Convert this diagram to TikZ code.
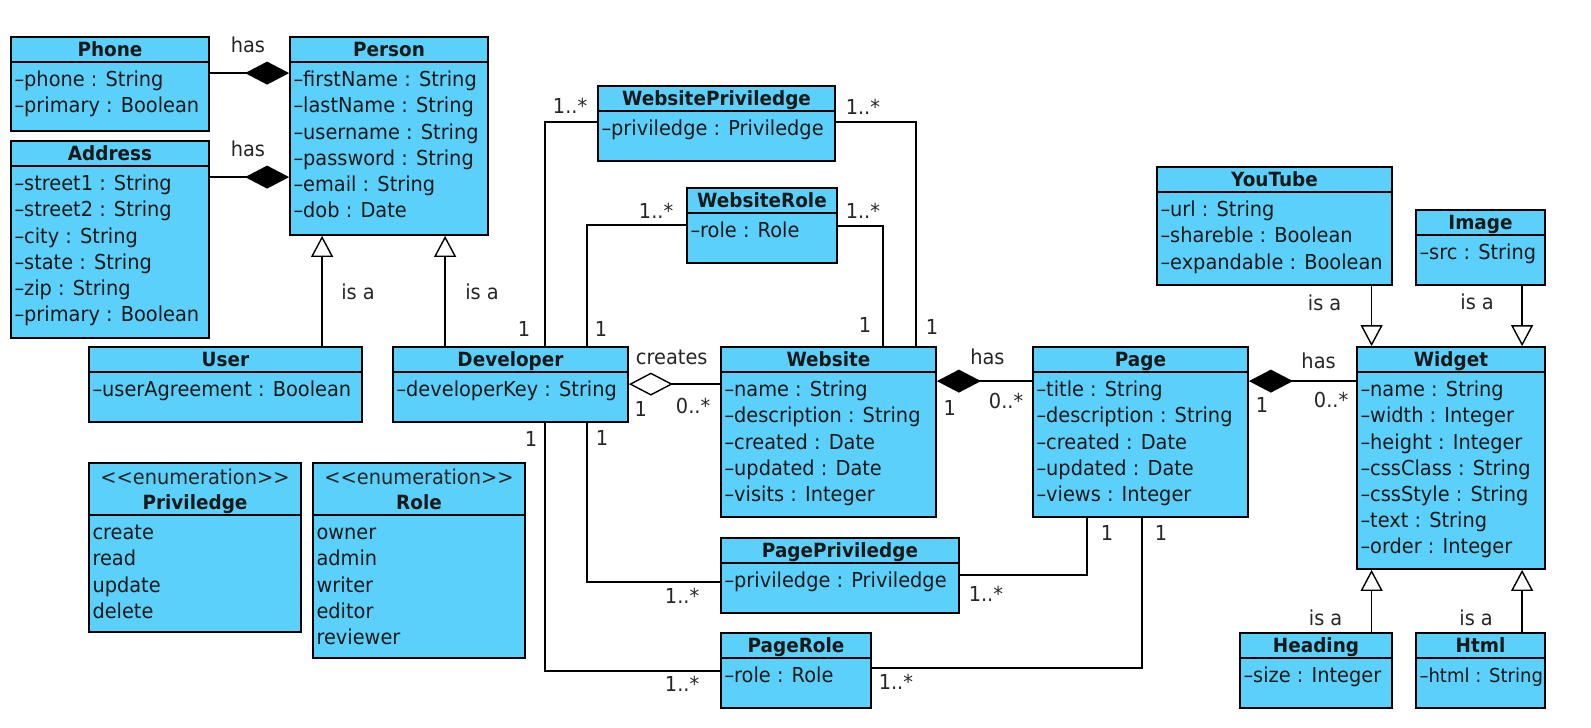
\documentclass[tikz,border=0pt]{standalone}
\usepackage{fontspec}
\setmainfont{DejaVu Sans}[FakeStretch=0.94]
\usepackage{tikz}
\usetikzlibrary{arrows.meta, fit, positioning}
\definecolor{classblue}{RGB}{90,208,250}
\tikzstyle{classbox} = [rectangle, draw=black, fill=classblue, line width=0.9pt, inner sep=0pt]
\tikzstyle{divider} = [line width=0.9pt]
\tikzstyle{classname} = [inner sep=0pt, text height=7pt, text depth=0pt, text=black!90, font=\fontsize{9.8}{11}\selectfont\bfseries]
\tikzstyle{attr} = [anchor=west, inner sep=0pt, text height=7.5pt, text depth=0pt, text=black!90, font=\fontsize{10.3}{12}\selectfont]
\tikzstyle{lbl} = [inner sep=0pt, text height=7.5pt, text depth=0pt, text=black!85, font=\fontsize{10.3}{12}\selectfont]
\tikzstyle{assoc} = [line width=0.7pt]
\tikzstyle{compose} = [assoc, {Diamond[length=22pt, width=11.5pt]}-]
\tikzstyle{aggregate} = [assoc, {Diamond[open, fill=white, length=22pt, width=11.5pt]}-]
\tikzstyle{isa} = [assoc, -{Triangle[open, fill=white, length=10.5pt, width=11pt]}]

\begin{document}
\begin{tikzpicture}[x=0.5pt, y=-0.5pt]
    \useasboundingbox (0,0) rectangle (1591,728);

    % classes
    \node (phone) [classbox, fit={(11,37) (209,131)}] {};
    \draw [divider] ([yshift=-13pt]phone.north west) -- ([yshift=-13pt]phone.north east);
    \node [classname] at ([yshift=-6.5pt]phone.north) {Phone};
    \foreach \a [count=\i from 0] in {phone : String, primary : Boolean}
        \node [attr] at ([shift={(4,43+26.2*\i)}]phone.north west) {–\a};

    \node (person) [classbox, fit={(290,37) (488,235)}] {};
    \draw [divider] ([yshift=-13pt]person.north west) -- ([yshift=-13pt]person.north east);
    \node [classname] at ([yshift=-6.5pt]person.north) {Person};
    \foreach \a [count=\i from 0] in {firstName : String, lastName : String, username : String, password : String, email : String, dob : Date}
        \node [attr] at ([shift={(4,43+26.2*\i)}]person.north west) {–\a};

    \node (address) [classbox, fit={(11,141) (209,338)}] {};
    \draw [divider] ([yshift=-13pt]address.north west) -- ([yshift=-13pt]address.north east);
    \node [classname] at ([yshift=-6.5pt]address.north) {Address};
    \foreach \a [count=\i from 0] in {street1 : String, street2 : String, city : String, state : String, zip : String, primary : Boolean}
        \node [attr] at ([shift={(4,43+26.2*\i)}]address.north west) {–\a};

    \node (user) [classbox, fit={(89,347) (362,422)}] {};
    \draw [divider] ([yshift=-13pt]user.north west) -- ([yshift=-13pt]user.north east);
    \node [classname] at ([yshift=-6.5pt]user.north) {User};
    \node [attr] at ([shift={(4,43)}]user.north west) {–userAgreement : Boolean};

    \node (dev) [classbox, fit={(393,347) (628,422)}] {};
    \draw [divider] ([yshift=-13pt]dev.north west) -- ([yshift=-13pt]dev.north east);
    \node [classname] at ([yshift=-6.5pt]dev.north) {Developer};
    \node [attr] at ([shift={(4,43)}]dev.north west) {–developerKey : String};

    \node (wsp) [classbox, fit={(598,86) (835,161)}] {};
    \draw [divider] ([yshift=-13pt]wsp.north west) -- ([yshift=-13pt]wsp.north east);
    \node [classname] at ([yshift=-6.5pt]wsp.north) {WebsitePriviledge};
    \node [attr] at ([shift={(4,43)}]wsp.north west) {–priviledge : Priviledge};

    \node (wsr) [classbox, fit={(687,188) (837,263)}] {};
    \draw [divider] ([yshift=-13pt]wsr.north west) -- ([yshift=-13pt]wsr.north east);
    \node [classname] at ([yshift=-6.5pt]wsr.north) {WebsiteRole};
    \node [attr] at ([shift={(4,43)}]wsr.north west) {–role : Role};

    \node (website) [classbox, fit={(721,347) (936,517)}] {};
    \draw [divider] ([yshift=-13pt]website.north west) -- ([yshift=-13pt]website.north east);
    \node [classname] at ([yshift=-6.5pt]website.north) {Website};
    \foreach \a [count=\i from 0] in {name : String, description : String, created : Date, updated : Date, visits : Integer}
        \node [attr] at ([shift={(4,43+26.2*\i)}]website.north west) {–\a};

    \node (page) [classbox, fit={(1033,347) (1248,517)}] {};
    \draw [divider] ([yshift=-13pt]page.north west) -- ([yshift=-13pt]page.north east);
    \node [classname] at ([yshift=-6.5pt]page.north) {Page};
    \foreach \a [count=\i from 0] in {title : String, description : String, created : Date, updated : Date, views : Integer}
        \node [attr] at ([shift={(4,43+26.2*\i)}]page.north west) {–\a};

    \node (youtube) [classbox, fit={(1157,167) (1392,285)}] {};
    \draw [divider] ([yshift=-13pt]youtube.north west) -- ([yshift=-13pt]youtube.north east);
    \node [classname] at ([yshift=-6.5pt]youtube.north) {YouTube};
    \foreach \a [count=\i from 0] in {url : String, shareble : Boolean, expandable : Boolean}
        \node [attr] at ([shift={(4,43+26.2*\i)}]youtube.north west) {–\a};

    \node (image) [classbox, fit={(1416,210) (1545,285)}] {};
    \draw [divider] ([yshift=-13pt]image.north west) -- ([yshift=-13pt]image.north east);
    \node [classname] at ([yshift=-6.5pt]image.north) {Image};
    \node [attr] at ([shift={(4,43)}]image.north west) {–src : String};

    \node (widget) [classbox, fit={(1357,347) (1545,569)}] {};
    \draw [divider] ([yshift=-13pt]widget.north west) -- ([yshift=-13pt]widget.north east);
    \node [classname] at ([yshift=-6.5pt]widget.north) {Widget};
    \foreach \a [count=\i from 0] in {name : String, width : Integer, height : Integer, cssClass : String, cssStyle : String, text : String, order : Integer}
        \node [attr] at ([shift={(4,43+26.2*\i)}]widget.north west) {–\a};

    \node (heading) [classbox, fit={(1240,633) (1392,708)}] {};
    \draw [divider] ([yshift=-13pt]heading.north west) -- ([yshift=-13pt]heading.north east);
    \node [classname] at ([yshift=-6.5pt]heading.north) {Heading};
    \node [attr] at ([shift={(4,43)}]heading.north west) {–size : Integer};

    \node (html) [classbox, fit={(1416,633) (1545,708)}] {};
    \draw [divider] ([yshift=-13pt]html.north west) -- ([yshift=-13pt]html.north east);
    \node [classname] at ([yshift=-6.5pt]html.north) {Html};
    \node [attr, font=\fontsize{9.6}{12}\selectfont] at ([shift={(4,43)}]html.north west) {–html : String};

    \node (pagepriv) [classbox, fit={(721,538) (959,613)}] {};
    \draw [divider] ([yshift=-13pt]pagepriv.north west) -- ([yshift=-13pt]pagepriv.north east);
    \node [classname] at ([yshift=-6.5pt]pagepriv.north) {PagePriviledge};
    \node [attr] at ([shift={(4,43)}]pagepriv.north west) {–priviledge : Priviledge};

    \node (pagerole) [classbox, fit={(721,633) (871,708)}] {};
    \draw [divider] ([yshift=-13pt]pagerole.north west) -- ([yshift=-13pt]pagerole.north east);
    \node [classname] at ([yshift=-6.5pt]pagerole.north) {PageRole};
    \node [attr] at ([shift={(4,43)}]pagerole.north west) {–role : Role};

    % enumerations
    \node (privenum) [classbox, fit={(89,463) (301,632)}] {};
    \draw [divider] ([yshift=-26.5pt]privenum.north west) -- ([yshift=-26.5pt]privenum.north east);
    \node [lbl] at ([yshift=-7.5pt]privenum.north) {<\kern0pt<enumeration>\kern0pt>};
    \node [classname] at ([yshift=-20pt]privenum.north) {Priviledge};
    \foreach \a [count=\i from 0] in {create, read, update, delete}
        \node [attr] at ([shift={(4,70+26.2*\i)}]privenum.north west) {\a};

    \node (roleenum) [classbox, fit={(313,463) (525,658)}] {};
    \draw [divider] ([yshift=-26.5pt]roleenum.north west) -- ([yshift=-26.5pt]roleenum.north east);
    \node [lbl] at ([yshift=-7.5pt]roleenum.north) {<\kern0pt<enumeration>\kern0pt>};
    \node [classname] at ([yshift=-20pt]roleenum.north) {Role};
    \foreach \a [count=\i from 0] in {owner, admin, writer, editor, reviewer}
        \node [attr] at ([shift={(4,70+26.2*\i)}]roleenum.north west) {\a};

    % person
    \draw [compose] ([yshift=-18.5pt]person.north west) -- node[lbl, pos=0.52, shift={(0,-28)}] {has} ([yshift=-18.5pt]phone.north east);
    \draw [compose] ([yshift=-70.5pt]person.north west) -- node[lbl, pos=0.52, shift={(0,-28)}] {has} ([yshift=-18.5pt]address.north east);
    \coordinate (isauser) at ([xshift=16.5pt]person.south west);
    \coordinate (isadev) at ([xshift=78pt]person.south west);
    \draw [isa] (isauser |- user.north) -- node[lbl, pos=0.49, shift={(36,0)}] {is a} (isauser);
    \draw [isa] (isadev |- dev.north) -- node[lbl, pos=0.49, shift={(37,0)}] {is a} (isadev);

    % website privileges and roles
    \draw [assoc] ([xshift=76.5pt]dev.north west) |- node[lbl, at start, shift={(-21,-17)}] {1} node[lbl, at end, shift={(-27,-16)}] {1..*} ([yshift=-18.5pt]wsp.north west);
    \draw [assoc] ([yshift=-18.5pt]wsp.north east) -| node[lbl, at start, shift={(27,-15)}] {1..*} node[lbl, at end, shift={(16,-19)}] {1} ([xshift=98pt]website.north west);
    \draw [assoc] ([xshift=97.5pt]dev.north west) |- node[lbl, at start, shift={(14,-17)}] {1} node[lbl, at end, shift={(-30,-14)}] {1..*} ([yshift=-19pt]wsr.north west);
    \draw [assoc] ([yshift=-19.5pt]wsr.north east) -| node[lbl, at start, shift={(25,-15)}] {1..*} node[lbl, at end, shift={(-18,-21)}] {1} ([xshift=81.5pt]website.north west);

    % website, page, widget
    \draw [aggregate] ([yshift=-19pt]dev.north east) -- node[lbl, pos=0.47, shift={(0,-27)}] {creates} node[lbl, at start, shift={(12,25)}] {1} node[lbl, at end, shift={(-27,22)}] {0..*} ([yshift=-19pt]website.north west);
    \draw [compose] ([yshift=-17.5pt]website.north east) -- node[lbl, pos=0.53, shift={(0,-24)}] {has} node[lbl, at start, shift={(13,27)}] {1} node[lbl, at end, shift={(-26,20)}] {0..*} ([yshift=-17.5pt]page.north west);
    \draw [compose] ([yshift=-17.5pt]page.north east) -- node[lbl, pos=0.65, shift={(0,-20)}] {has} node[lbl, at start, shift={(13,24)}] {1} node[lbl, at end, shift={(-25,19)}] {0..*} ([yshift=-17.5pt]widget.north west);

    % widget kinds
    \coordinate (isayoutube) at ([xshift=107.75pt]youtube.south west);
    \coordinate (isaimage) at ([xshift=53.5pt]image.south west);
    \coordinate (isaheading) at ([xshift=66.25pt]heading.north west);
    \coordinate (isahtml) at ([xshift=53.5pt]html.north west);
    \draw [isa] (isayoutube) -- node[lbl, pos=0.29, shift={(-47,0)}] {is a} (isayoutube |- widget.north);
    \draw [isa] (isaimage) -- node[lbl, pos=0.27, shift={(-45,0)}] {is a} (isaimage |- widget.north);
    \draw [isa] (isaheading) -- node[lbl, pos=0.23, shift={(-46,0)}] {is a} (isaheading |- widget.south);
    \draw [isa] (isahtml) -- node[lbl, pos=0.23, shift={(-46,0)}] {is a} (isahtml |- widget.south);

    % page privileges and roles
    \draw [assoc] ([xshift=97.5pt]dev.south west) |- node[lbl, at start, shift={(15,15)}] {1} node[lbl, at end, shift={(-38,14)}] {1..*} ([yshift=-22.5pt]pagepriv.north west);
    \draw [assoc] ([yshift=-19pt]pagepriv.north east) -| node[lbl, at start, shift={(26,19)}] {1..*} node[lbl, at end, shift={(20,15)}] {1} ([xshift=27.5pt]page.south west);
    \draw [assoc] ([xshift=76.5pt]dev.south west) |- node[lbl, at start, shift={(-14,16)}] {1} node[lbl, at end, shift={(-38,13)}] {1..*} ([yshift=-19.5pt]pagerole.north west);
    \draw [assoc] ([yshift=-18pt]pagerole.north east) -| node[lbl, at start, shift={(24,14)}] {1..*} node[lbl, at end, shift={(19,15)}] {1} ([xshift=55pt]page.south west);
\end{tikzpicture}
\end{document}
